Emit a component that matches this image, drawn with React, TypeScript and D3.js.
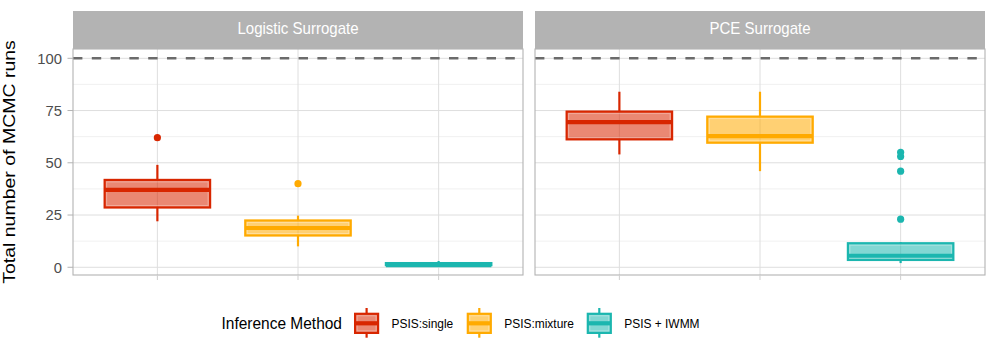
import React from "react";
import * as d3 from "d3";

// ---------- data ----------
const panels = ["Logistic Surrogate", "PCE Surrogate"];
const methods = ["PSIS:single", "PSIS:mixture", "PSIS + IWMM"];
const methodColors = ["#D82600", "#FFAA00", "#1BB6AF"];
// [panel][method]
const whiskerLow = [[22, 10, 1], [54, 46, 2]];
const q1 = [[28.6, 15.2, 1], [61.2, 59.6, 3.5]];
const median = [[37, 18.8, 1], [69.5, 62.8, 5.5]];
const q3 = [[41.8, 22.4, 2], [74.5, 72.1, 11.5]];
const whiskerHigh = [[49, 24.7, 3], [84, 84, 12]];
const outliers = [[[62], [40], []], [[], [], [23, 46, 53, 55]]];
const yTicks = [0, 25, 50, 75, 100];
const yMinorTicks = [12.5, 37.5, 62.5, 87.5];
const referenceLine = 100;
const yTitle = "Total number of MCMC runs";
const legendTitle = "Inference Method";

// ---------- layout ----------
const W = 996;
const H = 354;
const panelX: [number, number][] = [[73, 523], [535, 985]];
const stripTop = 11;
const panelTop = 49;
const panelBottom = 275;
const FONT = "'Liberation Sans', Arial, Helvetica, sans-serif";
const GRID_MAJOR = "#DEDEDE";
const GRID_MINOR = "#ECECEC";
const GREY70 = "#B3B3B3";
const legendKeyX = [354, 466.7, 586.7];

const y = d3.scaleLinear().domain([-3.7, 104.45]).range([panelBottom, panelTop]);

function BoxGlyph({ cx, halfW, yLo, yQ1, yMed, yQ3, yHi, color }: any) {
  const sw = 2.2;
  return (
    <g>
      <line x1={cx} x2={cx} y1={yQ3} y2={yHi} stroke={color} strokeWidth={sw} />
      <line x1={cx} x2={cx} y1={yQ1} y2={yLo} stroke={color} strokeWidth={sw} />
      <rect
        x={cx - halfW}
        y={yQ3}
        width={2 * halfW}
        height={Math.max(yQ1 - yQ3, 0.01)}
        fill={color}
        fillOpacity={0.55}
        stroke={color}
        strokeWidth={sw}
      />
      {yQ1 - yQ3 > 6 && (
        <rect
          x={cx - halfW + 2}
          y={yQ3 + 2}
          width={2 * halfW - 4}
          height={yQ1 - yQ3 - 4}
          fill="none"
          stroke="#fff"
          strokeOpacity={0.3}
          strokeWidth={1}
        />
      )}
      <line x1={cx - halfW} x2={cx + halfW} y1={yMed} y2={yMed} stroke={color} strokeWidth={4.2} />
    </g>
  );
}

function Txt({ x, y: ty, size, sx = 1, anchor = "start", fill = "#000", children, rotate = 0 }: any) {
  const tr =
    rotate !== 0
      ? `translate(${x},${ty}) rotate(${rotate}) scale(1,${sx})`
      : `translate(${x},${ty}) scale(${sx},1)`;
  return (
    <text transform={tr} textAnchor={anchor} fontSize={size} fill={fill}>
      {children}
    </text>
  );
}

export default function App() {
  return (
    <svg
      width={W}
      height={H}
      viewBox={`0 0 ${W} ${H}`}
      style={{ position: "absolute", left: 0, top: 0, display: "block", background: "#fff" }}
      fontFamily={FONT}
    >
      <rect x={0} y={0} width={W} height={H} fill="#fff" />
      {panels.map((pName, pi) => {
        const [x0, x1] = panelX[pi];
        const x = d3.scalePoint<string>().domain(methods).range([x0, x1]).padding(0.6);
        const step = x.step();
        const halfW = (0.75 * step) / 2;
        return (
          <g key={pName}>
            {/* strip */}
            <rect x={x0} y={stripTop} width={x1 - x0} height={panelTop - stripTop} fill={GREY70} />
            <Txt x={(x0 + x1) / 2} y={33.6} size={16} sx={0.94} anchor="middle" fill="#fff">
              {pName}
            </Txt>
            {/* panel background */}
            <rect x={x0} y={panelTop} width={x1 - x0} height={panelBottom - panelTop} fill="#fff" />
            {yMinorTicks.map((t) => (
              <line key={"mn" + t} x1={x0} x2={x1} y1={y(t)} y2={y(t)} stroke={GRID_MINOR} strokeWidth={0.8} />
            ))}
            {yTicks.map((t) => (
              <line key={"mj" + t} x1={x0} x2={x1} y1={y(t)} y2={y(t)} stroke={GRID_MAJOR} strokeWidth={1} />
            ))}
            {methods.map((m) => (
              <line key={"vx" + m} x1={x(m)} x2={x(m)} y1={panelTop} y2={panelBottom} stroke={GRID_MAJOR} strokeWidth={1} />
            ))}
            {/* reference line */}
            <line
              x1={x0}
              x2={x1}
              y1={y(referenceLine)}
              y2={y(referenceLine)}
              stroke="#6B6B6B"
              strokeWidth={2.4}
              strokeDasharray="9.4 9.4"
            />
            {/* boxes */}
            {methods.map((m, mi) => {
              const cx = x(m) as number;
              const color = methodColors[mi];
              return (
                <g key={"b" + m}>
                  <BoxGlyph
                    cx={cx}
                    halfW={halfW}
                    yLo={y(whiskerLow[pi][mi])}
                    yQ1={y(q1[pi][mi])}
                    yMed={y(median[pi][mi])}
                    yQ3={y(q3[pi][mi])}
                    yHi={y(whiskerHigh[pi][mi])}
                    color={color}
                  />
                  {outliers[pi][mi].map((v, k) => (
                    <circle key={k} cx={cx} cy={y(v)} r={3.6} fill={color} />
                  ))}
                </g>
              );
            })}
            {/* border */}
            <rect
              x={x0}
              y={panelTop}
              width={x1 - x0}
              height={panelBottom - panelTop}
              fill="none"
              stroke={GREY70}
              strokeWidth={1.1}
            />
            {/* x ticks */}
            {methods.map((m) => (
              <line key={"xt" + m} x1={x(m)} x2={x(m)} y1={panelBottom} y2={panelBottom + 5} stroke="#CFCFCF" strokeWidth={1} />
            ))}
          </g>
        );
      })}

      {/* y axis */}
      {yTicks.map((t) => (
        <g key={"yt" + t}>
          <line x1={67.5} x2={73} y1={y(t)} y2={y(t)} stroke={GREY70} strokeWidth={1} />
          <text x={62} y={y(t)} dy="0.36em" textAnchor="end" fontSize={14.8} fill="#4D4D4D">
            {t}
          </text>
        </g>
      ))}
      <Txt x={14.5} y={(panelTop + panelBottom) / 2} size={19.5} sx={0.87} rotate={-90} anchor="middle">
        {yTitle}
      </Txt>

      {/* legend */}
      <Txt x={221.5} y={329.2} size={17.2} sx={0.9}>
        {legendTitle}
      </Txt>
      {methods.map((m, mi) => {
        const kx = legendKeyX[mi];
        const color = methodColors[mi];
        const cx = kx + 12.6;
        return (
          <g key={"lg" + m}>
            <BoxGlyph
              cx={cx}
              halfW={11.5}
              yLo={337.7}
              yQ1={332.9}
              yMed={323.3}
              yQ3={313.8}
              yHi={308}
              color={color}
            />
            <Txt x={kx + 37.5} y={327.6} size={12.6} sx={0.95}>
              {m}
            </Txt>
          </g>
        );
      })}
    </svg>
  );
}
